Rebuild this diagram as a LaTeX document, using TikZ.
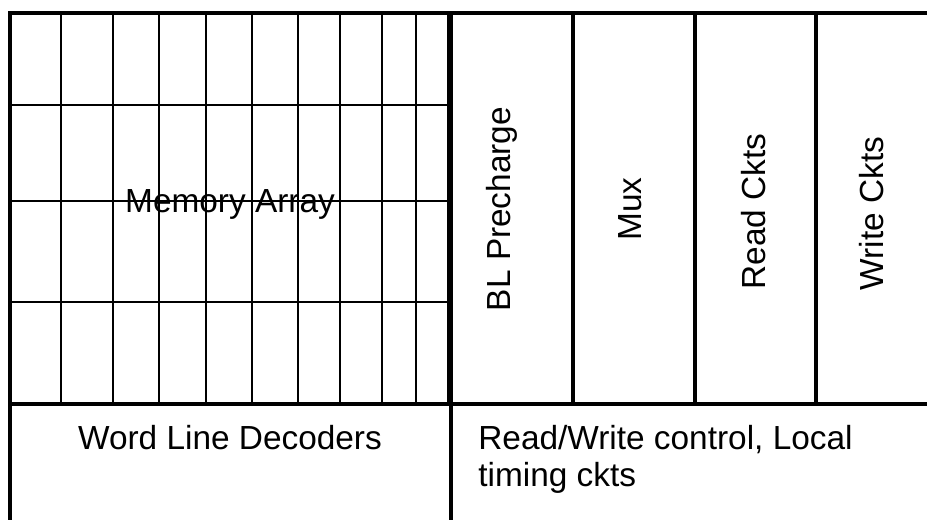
\documentclass[tikz,border=0pt]{standalone}
\usepackage{fontspec}
\setmainfont{Liberation Sans}
\usepackage{tikz}
\usetikzlibrary{arrows,shapes}

\begin{document}
\begin{tikzpicture}[scale=1,
  frame/.style={line width=2.1pt},
  divider/.style={line width=1.9pt},
  cell/.style={line width=0.8pt},
  label/.style={inner sep=0pt, font=\fontsize{19}{21}\selectfont}]

\useasboundingbox (0,0) rectangle (18.54,10.40);

% Memory cells: rows
\draw[][cell] (0.20,8.30) -- (8.96,8.30);
\draw[][cell] (0.20,6.38) -- (8.96,6.38);
\draw[][cell] (0.20,4.36) -- (8.96,4.36);

% Memory cells: columns
\draw[][cell] (1.22,2.32) -- (1.22,10.14);
\draw[][cell] (2.26,2.32) -- (2.26,10.14);
\draw[][cell] (3.18,2.32) -- (3.18,10.14);
\draw[][cell] (4.12,2.32) -- (4.12,10.14);
\draw[][cell] (5.04,2.32) -- (5.04,10.14);
\draw[][cell] (5.96,2.32) -- (5.96,10.14);
\draw[][cell] (6.80,2.32) -- (6.80,10.14);
\draw[][cell] (7.64,2.32) -- (7.64,10.14);
\draw[][cell] (8.32,2.32) -- (8.32,10.14);
\draw[][cell] (8.96,2.32) -- (8.96,10.14);

% Outer frame
\draw[][frame] (0.20,0) -- (0.20,10.14) -- (18.54,10.14);
\draw[][frame] (0.20,2.32) -- (18.54,2.32);
\draw[][frame] (9.02,0) -- (9.02,10.14);

% Column circuits
\draw[][divider] (11.46,2.32) -- (11.46,10.14);
\draw[][divider] (13.90,2.32) -- (13.90,10.14);
\draw[][divider] (16.32,2.32) -- (16.32,10.14);

% Labels
\node[label, anchor=base] (array) at (4.60,6.15) {Memory Array};
\node[label, anchor=base, rotate=90] (precharge) at (10.20,6.22) {BL Precharge};
\node[label, anchor=base, rotate=90] (mux) at (12.83,6.22) {Mux};
\node[label, anchor=base, rotate=90] (read) at (15.30,6.17) {Read Ckts};
\node[label, anchor=base, rotate=90] (write) at (17.67,6.13) {Write Ckts};
\node[label, anchor=base] (decoders) at (4.60,1.41) {Word Line Decoders};
\node[label, anchor=base west, align=left] (control) at (9.56,0.67) {Read/Write control, Local\\timing ckts};

\end{tikzpicture}
\end{document}
